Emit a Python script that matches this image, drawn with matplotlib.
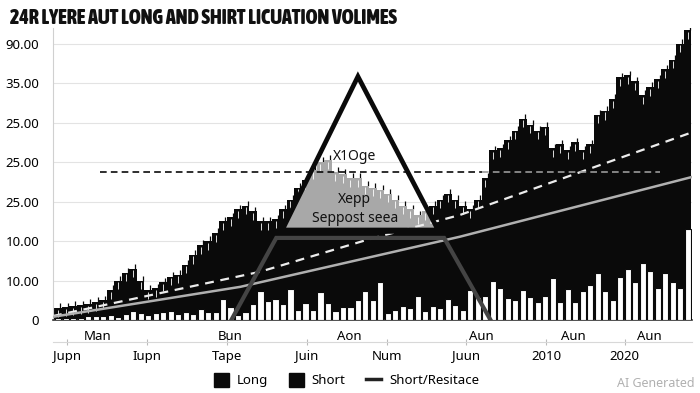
import matplotlib.pyplot as plt
import numpy as np
from matplotlib import font_manager
from matplotlib.patches import Polygon, Patch
from matplotlib.lines import Line2D

# long volume (black area), one value per period, in grid units
long_vals = [0.30, 0.32, 0.35, 0.37, 0.40, 0.45, 0.50, 0.76, 1.00, 1.20,
             1.30, 1.00, 0.76, 0.80, 0.95, 1.10, 1.15, 1.40, 1.65, 1.90,
             2.00, 2.20, 2.50, 2.60, 2.80, 2.90, 2.75, 2.50, 2.50, 2.55,
             2.80, 3.05, 3.35, 3.55, 3.80, 4.00, 4.05, 3.75, 3.70, 3.60,
             3.60, 3.40, 3.35, 3.30, 3.20, 3.05, 2.90, 2.80, 2.65, 2.75,
             2.90, 3.05, 3.20, 3.05, 2.90, 2.80, 3.05, 3.60, 4.30, 4.35,
             4.55, 4.80, 5.10, 4.95, 4.80, 4.90, 4.35, 4.45, 4.30, 4.50,
             4.30, 4.45, 5.20, 5.30, 5.60, 6.15, 6.20, 6.05, 5.70, 5.90,
             6.10, 6.35, 6.60, 7.00, 7.35]

# short volume (white bars)
short_vals = [0.04, 0.04, 0.04, 0.05, 0.10, 0.10, 0.10, 0.13, 0.08, 0.15,
              0.23, 0.18, 0.13, 0.18, 0.20, 0.23, 0.15, 0.20, 0.15, 0.28,
              0.20, 0.20, 0.53, 0.33, 0.13, 0.20, 0.41, 0.74, 0.48, 0.53,
              0.41, 0.79, 0.25, 0.43, 0.25, 0.71, 0.43, 0.23, 0.33, 0.33,
              0.51, 0.74, 0.51, 0.96, 0.18, 0.25, 0.36, 0.30, 0.61, 0.23,
              0.36, 0.30, 0.53, 0.38, 0.25, 0.76, 0.58, 0.61, 0.99, 0.81,
              0.56, 0.51, 0.76, 0.58, 0.46, 0.61, 1.07, 0.46, 0.79, 0.46,
              0.74, 0.89, 1.19, 0.74, 0.51, 1.09, 1.29, 0.96, 1.45, 1.24,
              0.81, 1.19, 0.96, 0.81, 2.31]

# trend lines (x in period index, y in grid units)
dash_trend_x = [-0.7, 26.9, 41.2, 53.6, 84.5]
dash_trend_y = [0.10, 1.22, 2.03, 2.66, 4.75]
solid_trend_x = [-0.7, 24.3, 53.6, 84.5]
solid_trend_y = [0.08, 0.84, 2.11, 3.62]

resist_level = 3.76

y_ticks = [0, 1, 2, 3, 4, 5, 6, 7]
y_labels = ['0', '10.00', '10.00', '25.00', '25.00', '25.00', '35.00', '90.00']

top_pos = [5.2, 22.9, 38.9, 56.5, 68.7, 78.9]
top_labels = ['Man', 'Bun', 'Aon', 'Aun', 'Aun', 'Aun']
low_pos = [1.2, 11.9, 22.5, 33.2, 43.9, 54.4, 65.1, 75.6]
low_labels = ['Jupn', 'Iupn', 'Tape', 'Juin', 'Num', 'Juun', '2010', '2020']

title = '24R LYERE AUT LONG AND SHIRT LICUATION VOLIMES'

plt.rcParams['font.family'] = ['Noto Sans', 'DejaVu Sans']

# pick a narrow, heavy face for the title if one is installed
narrow = ('condensed', 'semi-condensed', 'extra-condensed', 'ultra-condensed')
best = None
for f in font_manager.fontManager.ttflist:
    nm = f.name.lower()
    w = f.weight if isinstance(f.weight, int) else 400
    if ('narrow' in nm or 'condensed' in nm or f.stretch in narrow) and w >= 600:
        if best is None or w > best[1]:
            best = (f, w)
if best is not None:
    title_font = font_manager.FontProperties(fname=best[0].fname)
else:
    title_font = font_manager.FontProperties(family='DejaVu Sans',
                                             weight='bold')

fig = plt.figure(figsize=(7, 3.93), dpi=100)
ax = fig.add_axes([0.0757, 0.1858, 0.913, 0.743])

x = np.arange(len(long_vals))

ax.bar(x, long_vals, width=1.0, color='#0a0a0a', zorder=2)
# little wicks at the top of the long bars
ax.vlines(x, np.array(long_vals) - 0.22, np.array(long_vals) - 0.04,
          color='white', lw=0.6, zorder=2.5)
ax.vlines(x + 0.3, long_vals, np.array(long_vals) + 0.12,
          color='#0a0a0a', lw=0.9, zorder=2.5)

# triangle pattern with grey bars inside
tri_pts = [[29.9, 2.28], [40.0, 6.17], [50.7, 2.28]]
tri = Polygon(tri_pts, closed=True, facecolor='none', edgecolor='#0a0a0a',
              lw=3.4, zorder=7, joinstyle='miter')
ax.add_patch(tri)
clip_tri = Polygon(tri_pts, closed=True, transform=ax.transData)
grey = ax.bar(x, long_vals, width=1.0, color='#a8a8a8', zorder=3)
for b in grey:
    b.set_clip_path(clip_tri)
gw = ax.vlines(x, np.array(long_vals) - 0.22, np.array(long_vals) - 0.04,
               color='white', lw=0.6, zorder=3.5)
gw.set_clip_path(clip_tri)
ax.plot([29.6, 51.0], [2.26, 2.26], color='#0a0a0a', lw=4, zorder=7,
        solid_capstyle='butt')

# support trapezoid
ax.plot([23.1, 29.1, 51.5, 57.7], [0, 2.08, 2.08, 0], color='#444444',
        lw=3, zorder=6, solid_joinstyle='miter')

# trends
ax.plot(dash_trend_x, dash_trend_y, color='#ececec', lw=1.6, ls=(0, (4, 3)),
        zorder=4)
ax.plot(solid_trend_x, solid_trend_y, color='#b0b0b0', lw=1.8, zorder=4)

# resistance level
ax.plot([5.6, 56.5], [resist_level, resist_level], color='#0a0a0a', lw=1.2,
        ls=(0, (4, 2.5)), zorder=4)
ax.plot([56.5, 80.3], [resist_level, resist_level], color='#9a9a9a', lw=1.2,
        ls=(0, (4, 2.5)), zorder=4)

# short bars
ax.bar(x, short_vals, width=0.82, color='white', edgecolor='#0a0a0a',
       lw=0.8, zorder=5)

ax.text(39.6, 4.15, 'X1Oge', ha='center', va='center', fontsize=10,
        color='#111111', zorder=8)
ax.text(39.6, 3.05, 'Xepp', ha='center', va='center', fontsize=10,
        color='#111111', zorder=8)
ax.text(39.6, 2.56, 'Seppost seea', ha='center', va='center', fontsize=10,
        color='#111111', zorder=8)

ax.set_xlim(-0.7, 84.6)
ax.set_ylim(0, 7.4)
ax.set_yticks(y_ticks, y_labels, fontsize=9.5)
ax.tick_params(axis='y', length=0, pad=10)
ax.grid(True, axis='y', color='#e3e3e3', lw=0.8, zorder=0)
ax.set_axisbelow(True)

ax.set_xticks(top_pos, top_labels, fontsize=9.5)
ax.tick_params(axis='x', length=0, pad=7)

for s in ['top', 'right']:
    ax.spines[s].set_visible(False)
ax.spines['left'].set_color('#d0d0d0')
ax.spines['bottom'].set_color('#333333')
ax.spines['bottom'].set_linewidth(1.2)

sec = ax.secondary_xaxis(-0.075)
sec.set_xticks(low_pos, low_labels, fontsize=9.5)
sec.spines['bottom'].set_color('#d8d8d8')
sec.tick_params(axis='x', length=5, direction='inout', color='#bbbbbb', pad=3)

# title, shrunk to the width it has in the original
t = fig.text(0.014, 0.955, title, fontproperties=title_font, va='center',
             ha='left', color='#111111')
t.set_fontsize(18)
fig.canvas.draw()
w = t.get_window_extent().width
t.set_fontsize(18 * min(1.0, 385 / w))

handles = [Patch(facecolor='#0a0a0a', edgecolor='#0a0a0a'),
           Patch(facecolor='#0a0a0a', edgecolor='#0a0a0a'),
           Line2D([0], [0], color='#222222', lw=2.5)]
fig.legend(handles, ['Long', 'Short', 'Short/Resitace'], loc='center',
           bbox_to_anchor=(0.495, 0.033), ncol=3, frameon=False, fontsize=9.5,
           handlelength=1.1, handleheight=1.3, columnspacing=1.6,
           handletextpad=0.6)

fig.text(0.993, 0.025, 'AI Generated', ha='right', va='center', fontsize=9,
         color='#b0b0b0')

fig.savefig('out.png', dpi=100)
